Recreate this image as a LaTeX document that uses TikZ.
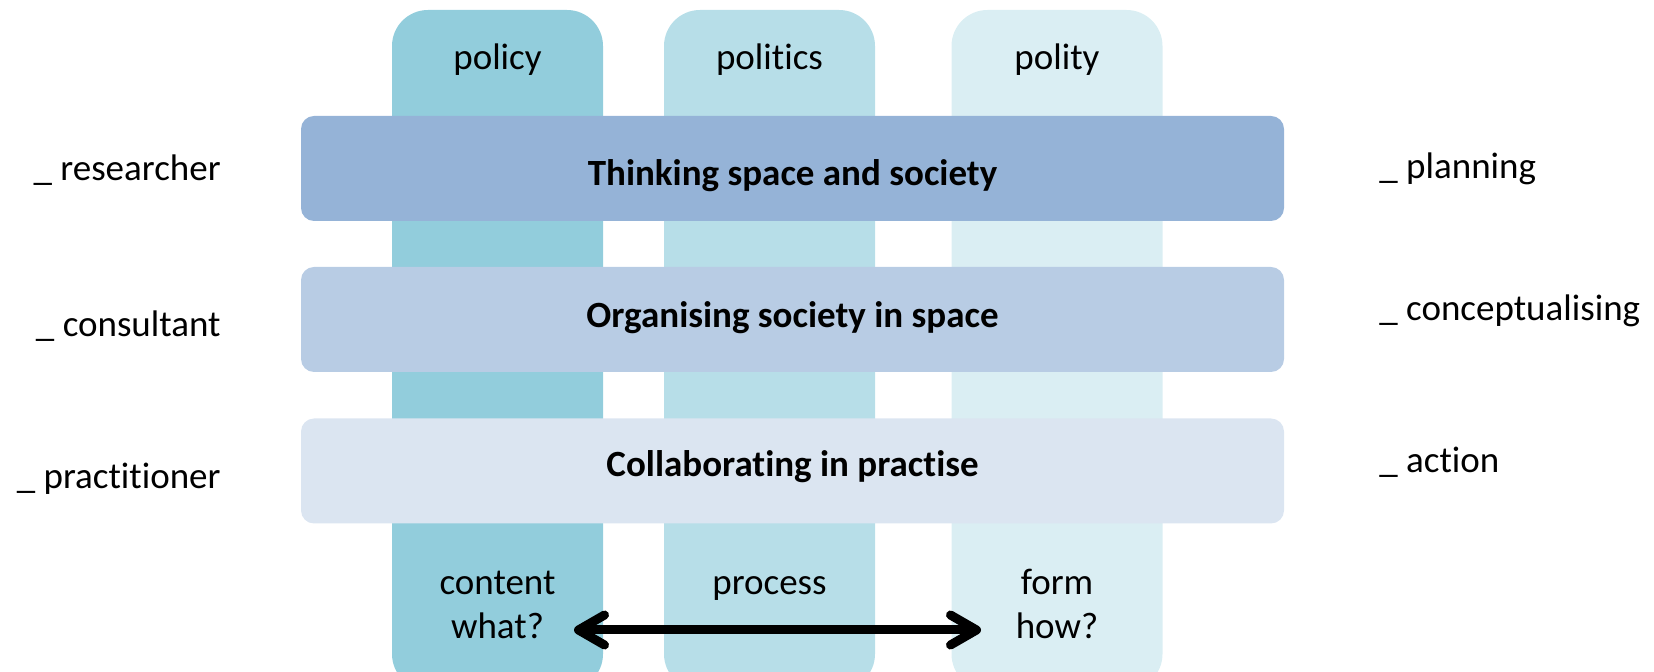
\documentclass[tikz,border=0pt]{standalone}
\usepackage{fontspec}
\setmainfont{Carlito}[Ligatures={NoCommon,NoContextual,NoRequired},Contextuals=NoAlternate]
\usetikzlibrary{arrows.meta}
\definecolor{colA}{HTML}{92CDDC}
\definecolor{colB}{HTML}{B7DEE8}
\definecolor{colC}{HTML}{DAEEF3}
\definecolor{barA}{HTML}{95B3D7}
\definecolor{barB}{HTML}{B8CCE4}
\definecolor{barC}{HTML}{DBE5F1}
\tikzset{
  colbox/.style={draw=none, rounded corners=18pt, minimum width=105.5pt, minimum height=340pt, inner sep=0pt},
  barbox/.style={draw=none, rounded corners=6.5pt, minimum width=491.5pt, minimum height=52.5pt, inner sep=0pt},
  lbl/.style={font=\fontsize{18.5}{22}\selectfont, inner sep=0pt, anchor=base},
  barlbl/.style={font=\fontsize{18.5}{22}\selectfont\bfseries, inner sep=0pt, anchor=base},
  tipb/.tip={Straight Barb[length=13pt,width=15pt,line cap=round,line join=round]},
}
\begin{document}
\begin{tikzpicture}[x=0.5pt,y=-0.5pt]
\useasboundingbox (0,0) rectangle (1654,672);
\clip (0,0) rectangle (1654,672);
% columns
\node[colbox, fill=colA] (cpolicy) at (497.5,350) {};
\node[colbox, fill=colB] (cpolitics) at (769.5,350) {};
\node[colbox, fill=colC] (cpolity) at (1057,350) {};
% bars
\node[barbox, fill=barA] (think) at (792.5,168.5) {};
\node[barbox, fill=barB] (organise) at (792.5,319.5) {};
\node[barbox, fill=barC] (collab) at (792.5,471) {};
\node[barlbl] (tthink) at (792.5,186) {Thinking space and society};
\node[barlbl] (torganise) at (792.5,328) {Organising society in space};
\node[barlbl] (tcollab) at (792.5,477) {Collaborating in practise};
% column headers
\node[lbl] (tpolicy) at (497.5,70) {policy};
\node[lbl] (tpolitics) at (769.5,70) {politics};
\node[lbl] (tpolity) at (1057,70) {polity};
% column footers
\node[lbl] (tcontent) at (497.5,595) {content};
\node[lbl] (twhat) at (497.5,639) {what?};
\node[lbl] (tprocess) at (769.5,595) {process};
\node[lbl] (tform) at (1057,595) {form};
\node[lbl] (thow) at (1057,639) {how?};
% left labels
\node[lbl, anchor=base east] (researcher) at (221,181) {\_ researcher};
\node[lbl, anchor=base east] (consultant) at (221,337) {\_ consultant};
\node[lbl, anchor=base east] (practitioner) at (221,489) {\_ practitioner};
% right labels
\node[lbl, anchor=base west] (planning) at (1379,179) {\_ planning};
\node[lbl, anchor=base west] (concept) at (1379,321) {\_ conceptualising};
\node[lbl, anchor=base west] (action) at (1379,473) {\_ action};
% arrow
\coordinate (aL) at (574,630);
\coordinate (aR) at (981,630);
\draw[line width=4.5pt, line cap=round, tipb-tipb] (aL) -- (aR);
\end{tikzpicture}
\end{document}
